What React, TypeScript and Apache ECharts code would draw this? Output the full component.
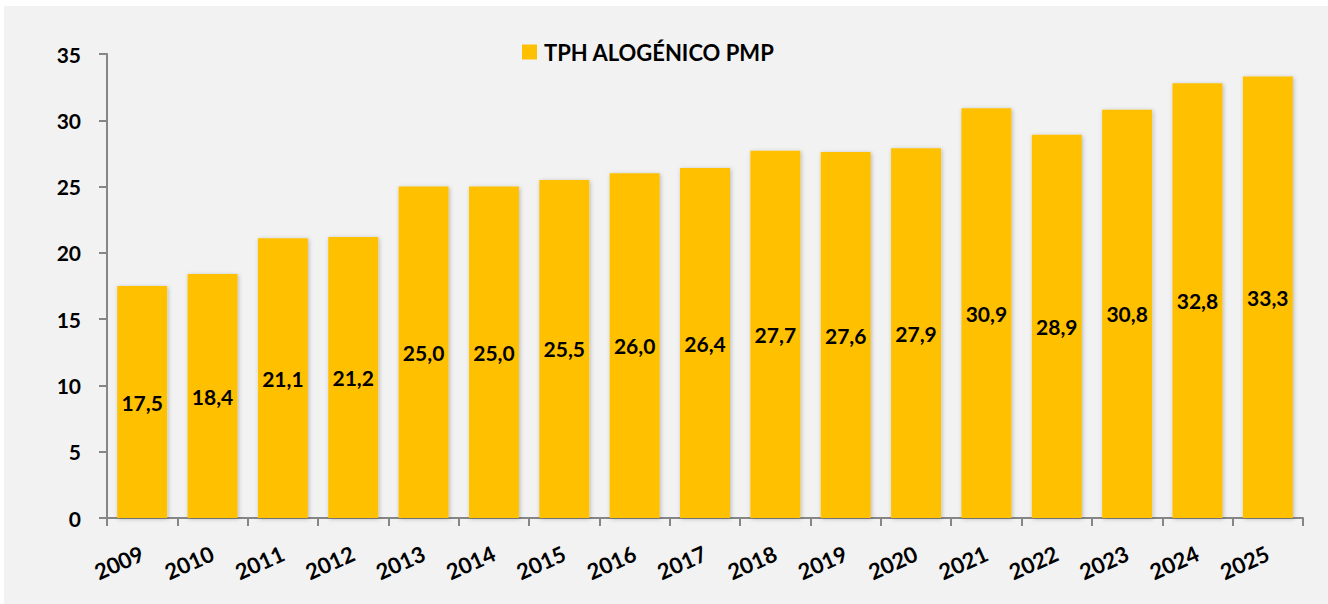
import React, { useEffect, useRef } from "react";
import * as echarts from "echarts";

const years = ["2009", "2010", "2011", "2012", "2013", "2014", "2015", "2016", "2017", "2018", "2019", "2020", "2021", "2022", "2023", "2024", "2025"];
const values = [17.5, 18.4, 21.1, 21.2, 25.0, 25.0, 25.5, 26.0, 26.4, 27.7, 27.6, 27.9, 30.9, 28.9, 30.8, 32.8, 33.3];
const seriesName = "TPH ALOGÉNICO PMP";
const yMin = 0;
const yMax = 35;
const yStep = 5;

const FONT = "Lato, 'Open Sans', sans-serif";

export default function App() {
  const ref = useRef<HTMLDivElement>(null);
  useEffect(() => {
    if (!ref.current) return;
    const chart = echarts.init(ref.current, null, { renderer: "svg" });
    chart.setOption({
      animation: false,
      backgroundColor: "#f2f2f2",
      textStyle: { fontFamily: FONT },
      legend: {
        data: [seriesName],
        left: 513,
        top: 30,
        itemWidth: 15,
        itemHeight: 15,
        itemGap: 10,
        icon: "rect",
        textStyle: { fontFamily: FONT, fontWeight: "bold", fontSize: 22, color: "#000", padding: [0, 0, 0, 2] },
      },
      grid: { left: 103, right: 25, top: 48, bottom: 86, containLabel: false },
      xAxis: {
        type: "category",
        data: years,
        boundaryGap: true,
        axisLine: { show: true, lineStyle: { color: "#868686", width: 2 } },
        axisTick: { show: true, length: 8, lineStyle: { color: "#868686", width: 2 }, alignWithLabel: false },
        axisLabel: {
          rotate: 24,
          margin: 34,
          interval: 0,
          fontFamily: FONT,
          fontWeight: "bold",
          fontSize: 22,
          color: "#000",
        },
      },
      yAxis: {
        type: "value",
        min: yMin,
        max: yMax,
        interval: yStep,
        axisLine: { show: true, lineStyle: { color: "#868686", width: 2 } },
        axisTick: { show: true, length: 8, lineStyle: { color: "#868686", width: 2 } },
        splitLine: { show: false },
        axisLabel: {
          margin: 26,
          fontFamily: FONT,
          fontWeight: "bold",
          fontSize: 21,
          color: "#000",
        },
      },
      series: [
        {
          name: seriesName,
          type: "bar",
          data: values,
          barCategoryGap: "29%",
          itemStyle: {
            color: "#FFC000",
            shadowColor: "rgba(0,0,0,0.25)",
            shadowBlur: 4,
            shadowOffsetX: 1,
            shadowOffsetY: 1,
          },
          label: {
            show: true,
            position: "inside",
            fontFamily: FONT,
            fontWeight: "bold",
            fontSize: 21,
            color: "#000",
            formatter: (p: any) => Number(p.value).toFixed(1).replace(".", ","),
          },
        },
      ],
    });
    return () => chart.dispose();
  }, []);
  return (
    <div style={{ position: "absolute", left: 0, top: 0, width: 1328, height: 604, background: "#fff" }}>
      <div ref={ref} style={{ position: "absolute", left: 4, top: 6, width: 1324, height: 598 }} />
    </div>
  );
}
